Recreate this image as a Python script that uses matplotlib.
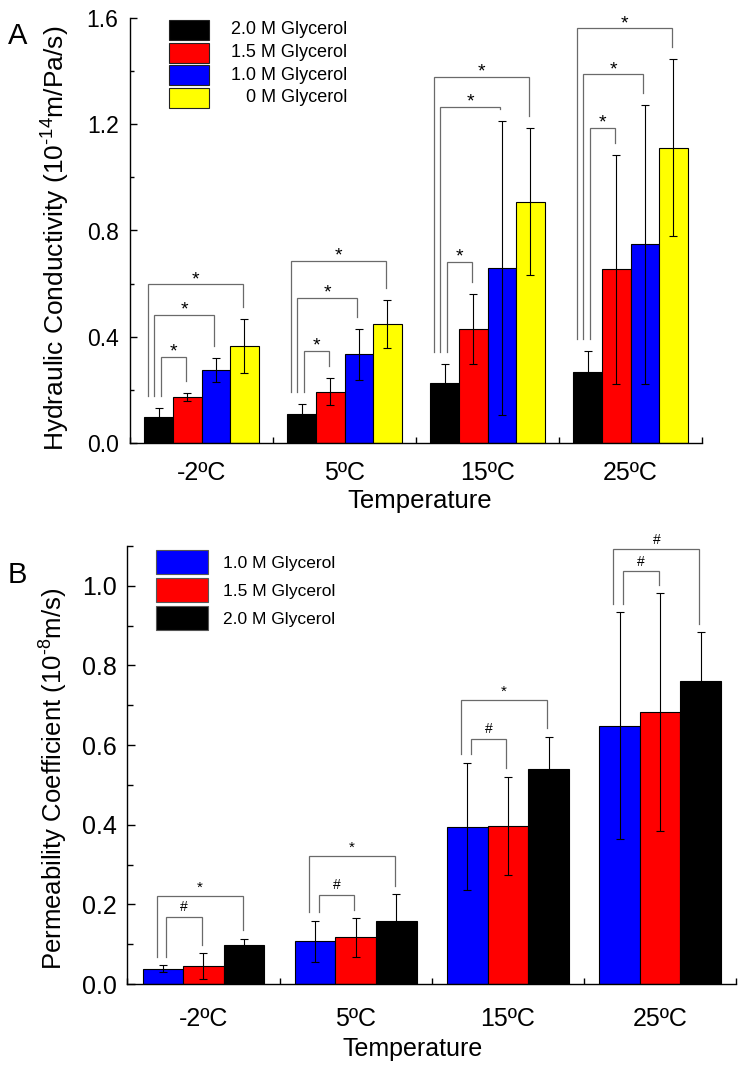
import matplotlib
matplotlib.use("Agg")
import matplotlib.pyplot as plt
import numpy as np
from matplotlib.ticker import MultipleLocator, FixedLocator
from matplotlib.patches import Rectangle

plt.rcParams['font.family'] = ['Liberation Sans', 'DejaVu Sans']
plt.rcParams['mathtext.fontset'] = 'custom'
plt.rcParams['mathtext.rm'] = 'Liberation Sans'
plt.rcParams['mathtext.it'] = 'Liberation Sans:italic'
plt.rcParams['mathtext.bf'] = 'Liberation Sans:bold'

temps = ['-2ºC', '5ºC', '15ºC', '25ºC']

# panel A: hydraulic conductivity (10^-14 m/Pa/s)
series_A = ['2.0 M Glycerol', '1.5 M Glycerol', '1.0 M Glycerol', '0 M Glycerol']
colors_A = ['#000000', '#ff0000', '#0000ff', '#ffff00']
lp_20 = [0.099, 0.108, 0.225, 0.268]
lp_15 = [0.172, 0.193, 0.428, 0.654]
lp_10 = [0.274, 0.334, 0.658, 0.748]
lp_00 = [0.366, 0.448, 0.908, 1.112]
lp_20_err = [0.034, 0.038, 0.071, 0.077]
lp_15_err = [0.015, 0.051, 0.132, 0.431]
lp_10_err = [0.046, 0.096, 0.553, 0.524]
lp_00_err = [0.101, 0.090, 0.277, 0.334]
# significance brackets A: height of each bracket (vs 1.5, 1.0, 0 M)
sig_A_tops = [[0.325, 0.482, 0.598],
              [0.348, 0.547, 0.686],
              [0.683, 1.266, 1.379],
              [1.187, 1.388, 1.561]]
sig_A_marks = [['*', '*', '*']] * 4

# panel B: permeability coefficient (10^-8 m/s)
series_B = ['1.0 M Glycerol', '1.5 M Glycerol', '2.0 M Glycerol']
colors_B = ['#0000ff', '#ff0000', '#000000']
ps_10 = [0.038, 0.107, 0.395, 0.649]
ps_15 = [0.045, 0.117, 0.397, 0.683]
ps_20 = [0.099, 0.158, 0.540, 0.761]
ps_10_err = [0.009, 0.051, 0.160, 0.284]
ps_15_err = [0.032, 0.048, 0.124, 0.298]
ps_20_err = [0.015, 0.067, 0.081, 0.122]
sig_B_tops = [[0.169, 0.222],
              [0.224, 0.322],
              [0.616, 0.714],
              [1.036, 1.092]]
sig_B_marks = [['#', '*'], ['#', '*'], ['#', '*'], ['#', '#']]

W, H = 744, 1065
fig = plt.figure(figsize=(W / 100, H / 100), dpi=100)


def px_axes(left, top, right, bottom):
    return fig.add_axes([left / W, 1 - bottom / H, (right - left) / W, (bottom - top) / H])


def draw_bars(ax, vals, errs, colors, capsize):
    n = len(vals)
    width = 0.8 / n
    x = np.arange(len(temps))
    centers = []
    for i in range(n):
        xi = x - 0.4 + width * (i + 0.5)
        ax.bar(xi, vals[i], width, color=colors[i], edgecolor='black', linewidth=0.8, zorder=2)
        ax.errorbar(xi, vals[i], yerr=errs[i], fmt='none', ecolor='black',
                    elinewidth=0.8, capsize=capsize, capthick=0.8, zorder=3)
        centers.append(xi)
    return centers, width


def draw_sig(ax, centers, vals, errs, tops, marks, targets, left_offs, gap, fs, lift):
    for g in range(len(temps)):
        base_top = vals[0][g] + errs[0][g] + gap
        for k, top in enumerate(tops[g]):
            t = targets[k]
            xl = centers[0][g] + left_offs[k]
            xr = centers[t][g] - 0.01
            yr = min(vals[t][g] + errs[t][g] + gap, top)
            ax.plot([xl, xl, xr, xr], [base_top, top, top, yr], color='#6a6a6a',
                    lw=0.9, zorder=4, solid_joinstyle='miter')
            ax.annotate(marks[g][k], ((xl + xr) / 2, top), xytext=(0, lift[marks[g][k]]),
                        textcoords='offset points', ha='center', va='baseline', fontsize=fs[marks[g][k]])


def style_axis(ax, ymax, ymaj, ymin, ytick_fs, xtick_fs, ypad, xpad, ymaj_len, ymin_len):
    ax.set_xlim(-0.5, len(temps) - 0.5)
    ax.set_ylim(0, ymax)
    ax.spines['top'].set_visible(False)
    ax.spines['right'].set_visible(False)
    for s in ('left', 'bottom'):
        ax.spines[s].set_linewidth(1.0)
    ax.yaxis.set_major_locator(MultipleLocator(ymaj))
    ax.yaxis.set_minor_locator(MultipleLocator(ymin))
    ax.yaxis.set_major_formatter(matplotlib.ticker.FormatStrFormatter('%.1f'))
    ax.tick_params(axis='y', which='major', direction='in', length=ymaj_len, width=1.0,
                   labelsize=ytick_fs, pad=ypad)
    ax.tick_params(axis='y', which='minor', direction='in', length=ymin_len, width=1.0)
    ax.set_xticks(range(len(temps)))
    ax.set_xticklabels(temps)
    ax.xaxis.set_minor_locator(FixedLocator(np.arange(-0.5, len(temps), 1.0)))
    ax.tick_params(axis='x', which='major', length=0, labelsize=xtick_fs, pad=xpad)
    ax.tick_params(axis='x', which='minor', direction='in', length=4, width=1.0)


# ---------------- panel A ----------------
axA = px_axes(130, 18, 702, 443)
vals_A = [lp_20, lp_15, lp_10, lp_00]
errs_A = [lp_20_err, lp_15_err, lp_10_err, lp_00_err]
cA, wA = draw_bars(axA, vals_A, errs_A, colors_A, capsize=2.6)
draw_sig(axA, cA, vals_A, errs_A, sig_A_tops, sig_A_marks, targets=[1, 2, 3],
         left_offs=[0.015, -0.03, -0.075], gap=0.045, fs={'*': 14}, lift={'*': 0})
style_axis(axA, 1.6, 0.4, 0.2, 16.5, 18, 8.2, 13, 5, 3)
axA.set_ylabel(r'Hydraulic Conductivity (10$^{\text{-14}}$m/Pa/s)', fontsize=19)
axA.yaxis.set_label_coords(-0.101, 0.482)
axA.set_xlabel('Temperature', fontsize=18.5, va='top')
axA.xaxis.set_label_coords(0.506, -0.108)

for i, (name, col) in enumerate(zip(series_A, colors_A)):
    yc = 0.9718 - i * 0.0531
    axA.add_patch(Rectangle((0.0682, yc - 0.0235), 0.0699, 0.047, transform=axA.transAxes,
                            facecolor=col, edgecolor='#222222', lw=0.8, clip_on=False))
    axA.text(0.3794, yc, name, transform=axA.transAxes, ha='right', va='center', fontsize=13)

fig.text(17.5 / W, 1 - 36.5 / H, 'A', ha='center', va='center', fontsize=21)

# ---------------- panel B ----------------
axB = px_axes(127.3, 546, 736.3, 984)
vals_B = [ps_10, ps_15, ps_20]
errs_B = [ps_10_err, ps_15_err, ps_20_err]
cB, wB = draw_bars(axB, vals_B, errs_B, colors_B, capsize=3.2)
draw_sig(axB, cB, vals_B, errs_B, sig_B_tops, sig_B_marks, targets=[1, 2],
         left_offs=[0.024, -0.04], gap=0.022, fs={'*': 11, '#': 10}, lift={'*': 3, '#': 4})
style_axis(axB, 1.1, 0.2, 0.1, 18, 18, 7.4, 16.5, 6, 4)
axB.set_ylabel(r'Permeability Coefficient (10$^{\text{-8}}$m/s)', fontsize=18.5)
axB.yaxis.set_label_coords(-0.094, 0.468)
axB.set_xlabel('Temperature', fontsize=18, va='top')
axB.xaxis.set_label_coords(0.468, -0.121)

for i, (name, col) in enumerate(zip(series_B, colors_B)):
    yc = 0.9646 - i * 0.0645
    axB.add_patch(Rectangle((0.0471, yc - 0.0274), 0.0854, 0.0548, transform=axB.transAxes,
                            facecolor=col, edgecolor='#555555', lw=0.8, clip_on=False))
    axB.text(0.1567, yc - 0.004, name, transform=axB.transAxes, ha='left', va='center', fontsize=12.5)

fig.text(17.5 / W, 1 - 575 / H, 'B', ha='center', va='center', fontsize=21)

fig.savefig('out.png', dpi=100)
